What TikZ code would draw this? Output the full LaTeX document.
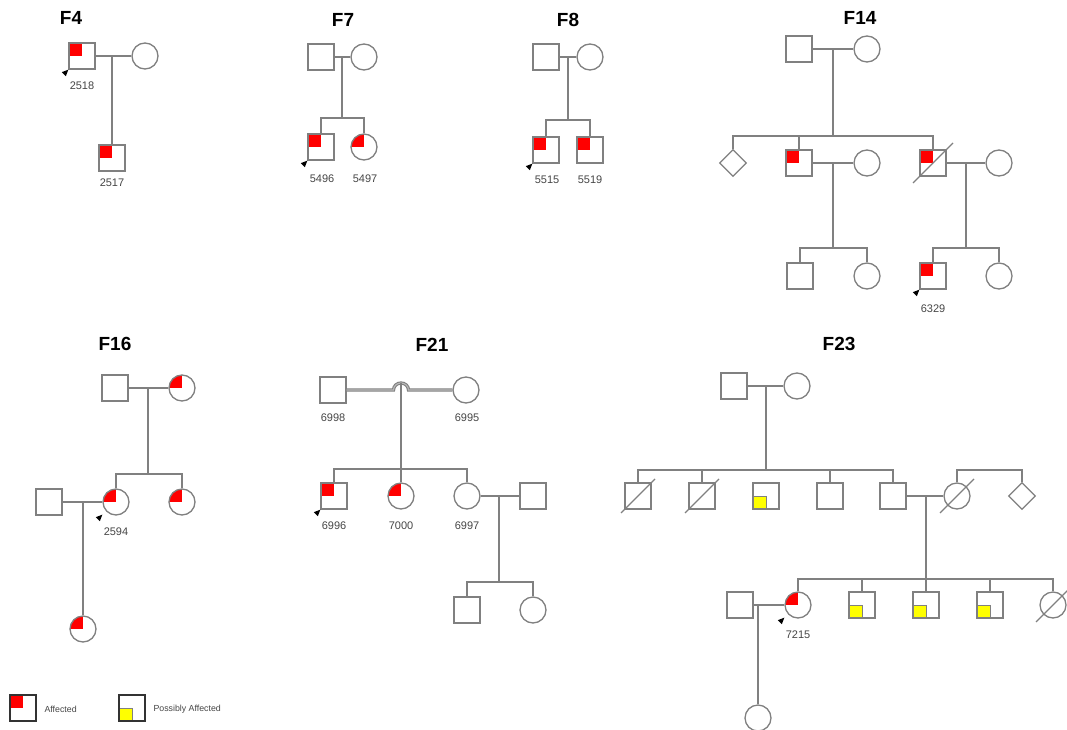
\documentclass[tikz,border=0pt]{standalone}
\usepackage{fontspec}
\setmainfont{Liberation Sans}
\usetikzlibrary{calc,shapes.geometric}
\definecolor{lc}{RGB}{128,128,128}
\definecolor{afr}{RGB}{255,0,0}
\definecolor{afy}{RGB}{255,255,0}
\definecolor{labc}{RGB}{70,70,70}
\newcommand\probnd[1]{\fill[black] (#1) -- ++(-6.5,2.5) -- ++(4,4) -- cycle;}
\newcommand\decsl[2]{\draw[ln] ($(#1)+(-#2,#2)$) -- ($(#1)+(#2,-#2)$);}
\begin{document}
\begin{tikzpicture}[x=1pt,y=-1pt,
  ln/.style={draw=lc, line width=1.3pt},
  sym/.style={draw=lc, line width=1.3pt, inner sep=0pt, fill=white},
  male/.style={sym, rectangle, minimum size=26pt},
  female/.style={sym, circle, minimum size=26pt},
  unknown/.style={sym, diamond, minimum size=27pt},
  aff/.style={path picture={\fill[afr] (path picture bounding box.north west) rectangle (path picture bounding box.center);}},
  poss/.style={path picture={\filldraw[fill=afy, draw=lc, line width=0.8pt] (path picture bounding box.south west) rectangle (path picture bounding box.center);}},
  lbl/.style={font=\fontsize{11}{11}\selectfont, text=labc},
  ttl/.style={font=\bfseries\fontsize{19}{19}\selectfont},
  leg/.style={font=\fontsize{8.8}{8.8}\selectfont, text=labc, anchor=west},
]
\useasboundingbox (0,0) rectangle (1067,730);
\fill[white] (0,0) rectangle (1067,730);

% ---------------- F4
\node[ttl] (tF4) at (71,18) {F4};
\node[male,aff] (a1) at (82,56) {};
\node[female] (a2) at (145,56) {};
\node[male,aff] (a3) at (112,158) {};
\coordinate (a12) at (112,56);
\draw[ln] (a1.east) -- (a2.west);
\draw[ln] (a12) -- (a3.north);
\node[lbl] (la1) at (82,86) {2518};
\node[lbl] (la3) at (112,183) {2517};
\probnd{a1.south west}

% ---------------- F7
\node[ttl] (tF7) at (343,20) {F7};
\node[male] (b1) at (321,57) {};
\node[female] (b2) at (364,57) {};
\node[male,aff] (b3) at (321,147) {};
\node[female,aff] (b4) at (364,147) {};
\coordinate (b12) at (342,57);
\coordinate (bs) at (342,118);
\draw[ln] (b1.east) -- (b2.west);
\draw[ln] (b12) -- (bs);
\draw[ln] (b3.north) |- (bs) -| (b4.north);
\node[lbl] (lb3) at (322,179) {5496};
\node[lbl] (lb4) at (365,179) {5497};
\probnd{b3.south west}

% ---------------- F8
\node[ttl] (tF8) at (568,20) {F8};
\node[male] (c1) at (546,57) {};
\node[female] (c2) at (590,57) {};
\node[male,aff] (c3) at (546,150) {};
\node[male,aff] (c4) at (590,150) {};
\coordinate (c12) at (568,57);
\coordinate (cs) at (568,120);
\draw[ln] (c1.east) -- (c2.west);
\draw[ln] (c12) -- (cs);
\draw[ln] (c3.north) |- (cs) -| (c4.north);
\node[lbl] (lc3) at (547,180) {5515};
\node[lbl] (lc4) at (590,180) {5519};
\probnd{c3.south west}

% ---------------- F14
\node[ttl] (tF14) at (860,18) {F14};
\node[male] (d1) at (799,49) {};
\node[female] (d2) at (867,49) {};
\node[unknown] (d3) at (733,163) {};
\node[male,aff] (d4) at (799,163) {};
\node[female] (d5) at (867,163) {};
\node[male,aff] (d6) at (933,163) {};
\node[female] (d7) at (999,163) {};
\node[male] (d8) at (800,276) {};
\node[female] (d9) at (867,276) {};
\node[male,aff] (d10) at (933,276) {};
\node[female] (d11) at (999,276) {};
\coordinate (d12) at (833,49);
\coordinate (ds1) at (833,136);
\coordinate (d45) at (833,163);
\coordinate (ds2) at (833,248);
\coordinate (d67) at (966,163);
\coordinate (ds3) at (966,248);
\draw[ln] (d1.east) -- (d2.west);
\draw[ln] (d12) -- (ds1);
\draw[ln] (d3.north) |- (ds1) -| (d6.north);
\draw[ln] (d4.north) -- (d4.north |- ds1);
\draw[ln] (d4.east) -- (d5.west);
\draw[ln] (d45) -- (ds2);
\draw[ln] (d8.north) |- (ds2) -| (d9.north);
\draw[ln] (d6.east) -- (d7.west);
\draw[ln] (d67) -- (ds3);
\draw[ln] (d10.north) |- (ds3) -| (d11.north);
\decsl{d6}{20}
\node[lbl] (ld10) at (933,309) {6329};
\probnd{d10.south west}

% ---------------- F16
\node[ttl] (tF16) at (115,344) {F16};
\node[male] (e1) at (115,388) {};
\node[female,aff] (e2) at (182,388) {};
\node[female,aff] (e3) at (116,502) {};
\node[female,aff] (e4) at (182,502) {};
\node[male] (e5) at (49,502) {};
\node[female,aff] (e6) at (83,629) {};
\coordinate (e12) at (148,388);
\coordinate (es) at (148,474);
\coordinate (e53) at (83,502);
\draw[ln] (e1.east) -- (e2.west);
\draw[ln] (e12) -- (es);
\draw[ln] (e3.north) |- (es) -| (e4.north);
\draw[ln] (e5.east) -- (e3.west);
\draw[ln] (e53) -- (e6.north);
\node[lbl] (le3) at (116,532) {2594};
\probnd{$(e3.south west)+(-4,3)$}

% ---------------- F21
\node[ttl] (tF21) at (432,345) {F21};
\node[male] (g1) at (333,390) {};
\node[female] (g2) at (466,390) {};
\node[male,aff] (g3) at (334,496) {};
\node[female,aff] (g4) at (401,496) {};
\node[female] (g5) at (467,496) {};
\node[male] (g6) at (533,496) {};
\node[male] (g7) at (467,610) {};
\node[female] (g8) at (533,610) {};
\coordinate (ghop) at (401,383);
\coordinate (gs) at (401,469);
\coordinate (g56) at (499,496);
\coordinate (gs2) at (499,582);
\draw[draw=lc, line width=1.1pt, double=lc!55, double distance=1.1pt]
  (g1.east) -- (393.5,390) arc[start angle=180, end angle=360, x radius=7.5, y radius=7] -- (g2.west);
\draw[ln] (ghop) -- (g4.north);
\draw[ln] (g3.north) |- (gs) -| (g5.north);
\draw[ln] (g5.east) -- (g6.west);
\draw[ln] (g56) -- (gs2);
\draw[ln] (g7.north) |- (gs2) -| (g8.north);
\node[lbl] (lg1) at (333,418) {6998};
\node[lbl] (lg2) at (467,418) {6995};
\node[lbl] (lg3) at (334,526) {6996};
\node[lbl] (lg4) at (401,526) {7000};
\node[lbl] (lg5) at (467,526) {6997};
\probnd{g3.south west}

% ---------------- F23
\node[ttl] (tF23) at (839,344) {F23};
\node[male] (h1) at (734,386) {};
\node[female] (h2) at (797,386) {};
\node[male] (h3) at (638,496) {};
\node[male] (h4) at (702,496) {};
\node[male,poss] (h5) at (766,496) {};
\node[male] (h6) at (830,496) {};
\node[male] (h7) at (893,496) {};
\node[female] (h8) at (957,496) {};
\node[unknown] (h9) at (1022,496) {};
\node[male] (i0) at (740,605) {};
\node[female,aff] (i1) at (798,605) {};
\node[male,poss] (i2) at (862,605) {};
\node[male,poss] (i3) at (926,605) {};
\node[male,poss] (i4) at (990,605) {};
\node[female] (i5) at (1053,605) {};
\node[female] (i6) at (758,718) {};
\coordinate (h12) at (766,386);
\coordinate (hs) at (766,470);
\coordinate (hs2) at (990,470);
\coordinate (h78) at (926,496);
\coordinate (is) at (926,579);
\coordinate (i01) at (758,605);
\draw[ln] (h1.east) -- (h2.west);
\draw[ln] (h12) -- (hs);
\draw[ln] (h3.north) |- (hs) -| (h7.north);
\draw[ln] (h4.north) -- (h4.north |- hs);
\draw[ln] (h6.north) -- (h6.north |- hs);
\draw[ln] (h8.north) |- (hs2) -| (h9.north);
\draw[ln] (h7.east) -- (h8.west);
\draw[ln] (h78) -- (is);
\draw[ln] (i1.north) |- (is) -| (i5.north);
\draw[ln] (i2.north) -- (i2.north |- is);
\draw[ln] (is) -- (i3.north);
\draw[ln] (i4.north) -- (i4.north |- is);
\draw[ln] (i0.east) -- (i1.west);
\draw[ln] (i01) -- (i6.north);
\decsl{h3}{17}
\decsl{h4}{17}
\decsl{h8}{17}
\decsl{i5}{17}
\node[lbl] (li1) at (798,635) {7215};
\probnd{$(i1.south west)+(-4,3)$}

% ---------------- Legend
\node[male, aff, draw=black!80, line width=1.4pt] (l1) at (23,708) {};
\node[leg] (lt1) at (41,709) {Affected};
\node[male, poss, draw=black!80, line width=1.4pt] (l2) at (132,708) {};
\node[leg] (lt2) at (150,709) {Possibly Affected};
\end{tikzpicture}
\end{document}
